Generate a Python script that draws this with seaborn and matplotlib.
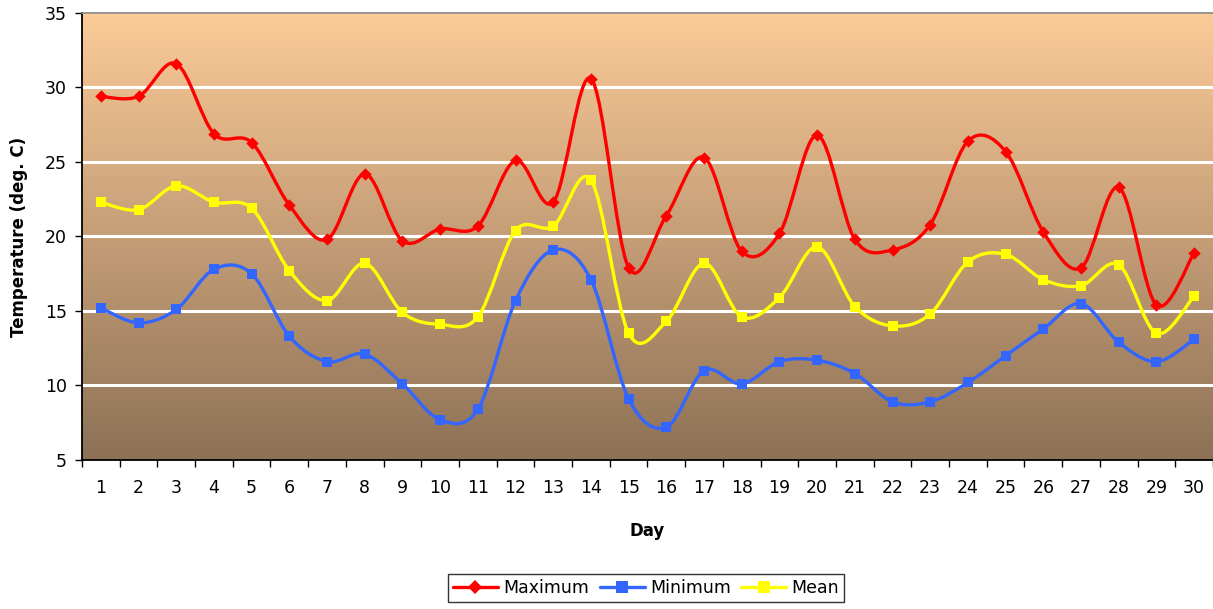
import matplotlib
matplotlib.use('Agg')
import matplotlib.pyplot as plt
import numpy as np
import seaborn as sns
from matplotlib.path import Path
from matplotlib.patches import PathPatch
from matplotlib.lines import Line2D
from matplotlib.colors import LinearSegmentedColormap

sns.set_style('white')
plt.rcParams['font.family'] = ['DejaVu Sans']
plt.rcParams['text.color'] = 'black'
plt.rcParams['axes.labelcolor'] = 'black'
plt.rcParams['xtick.color'] = 'black'
plt.rcParams['ytick.color'] = 'black'

# data
days = list(range(1, 31))
t_max = [29.4, 29.4, 31.6, 26.9, 26.3, 22.1, 19.8, 24.2, 19.7, 20.5,
         20.7, 25.1, 22.3, 30.6, 17.9, 21.4, 25.3, 19.0, 20.2, 26.8,
         19.8, 19.1, 20.8, 26.4, 25.7, 20.3, 17.9, 23.3, 15.4, 18.9]
t_min = [15.2, 14.2, 15.1, 17.8, 17.5, 13.3, 11.6, 12.1, 10.1, 7.7,
         8.4, 15.7, 19.1, 17.1, 9.1, 7.2, 11.0, 10.1, 11.6, 11.7,
         10.8, 8.9, 8.9, 10.2, 12.0, 13.8, 15.5, 12.9, 11.6, 13.1]
t_mean = [22.3, 21.8, 23.4, 22.3, 21.9, 17.7, 15.7, 18.2, 14.9, 14.1,
          14.6, 20.4, 20.7, 23.8, 13.5, 14.3, 18.2, 14.6, 15.9, 19.3,
          15.3, 14.0, 14.8, 18.3, 18.8, 17.1, 16.7, 18.1, 13.5, 16.0]
series_names = ['Maximum', 'Minimum', 'Mean']
series_colors = ['#FF0000', '#3366FF', '#FFFF00']
series_markers = ['D', 's', 's']


def smooth_path(xs, ys):
    # excel-style smoothed line as cubic bezier segments
    pts = np.column_stack([xs, ys]).astype(float)
    n = len(pts)
    verts = [pts[0]]
    codes = [Path.MOVETO]
    for i in range(n - 1):
        p0 = pts[i - 1] if i > 0 else pts[i]
        p1 = pts[i]
        p2 = pts[i + 1]
        p3 = pts[i + 2] if i + 2 < n else pts[i + 1]
        c1 = p1 + (p2 - p0) / 6.0
        c2 = p2 - (p3 - p1) / 6.0
        verts += [c1, c2, p2]
        codes += [Path.CURVE4] * 3
    return Path(verts, codes)


fig = plt.figure(figsize=(12.13, 6.09), dpi=100)
ax = fig.add_axes([0.0676, 0.2447, 0.9324, 0.734])

# gradient background, light at top
grad = np.linspace(0, 1, 256).reshape(-1, 1)
bg_cmap = LinearSegmentedColormap.from_list('bg', ['#FCCB98', '#8D7156'])
ax.imshow(grad, cmap=bg_cmap, aspect='auto', extent=[0.5, 30.5, 5, 35],
          origin='upper', zorder=0, interpolation='bilinear')

for yv in [10, 15, 20, 25, 30]:
    ax.axhline(yv, color='white', lw=2.2, zorder=1)

for vals, col, mk in zip([t_max, t_min, t_mean], series_colors, series_markers):
    ax.add_patch(PathPatch(smooth_path(days, vals), facecolor='none',
                           edgecolor=col, lw=2.4, zorder=3, capstyle='round'))
    sns.scatterplot(x=days, y=vals, marker=mk, color=col,
                    s=40 if mk == 'D' else 60, edgecolor=col, linewidth=0,
                    ax=ax, zorder=4)

ax.set_xlim(0.5, 30.5)
ax.set_ylim(5, 35)
ax.set_yticks([5, 10, 15, 20, 25, 30, 35])
ax.set_xticks(days)
ax.set_xticks(np.arange(0.5, 31, 1), minor=True)
ax.tick_params(axis='x', which='major', length=0, pad=14, labelsize=12.5)
ax.tick_params(axis='x', which='minor', length=5, width=1, direction='out',
               color='black', bottom=True)
ax.tick_params(axis='y', length=5, width=1, direction='out', color='black',
               left=True, pad=6, labelsize=12.5)

for side in ['left', 'bottom']:
    ax.spines[side].set_color('black')
    ax.spines[side].set_linewidth(1.3)
ax.spines['top'].set_color('#888888')
ax.spines['top'].set_linewidth(1.2)
ax.spines['right'].set_visible(False)

ax.set_xlabel('Day', fontsize=12, fontweight='bold', labelpad=18)
ax.set_ylabel('Temperature (deg. C)', fontsize=12, fontweight='bold', labelpad=12)

handles = [Line2D([0], [0], color=c, lw=2.4, marker=m,
                  markersize=7 if m == 'D' else 8, markeredgewidth=0)
           for c, m in zip(series_colors, series_markers)]
leg = fig.legend(handles, series_names, loc='center', ncol=3,
                 bbox_to_anchor=(646 / 1213, 1 - 588 / 609), fontsize=12.5,
                 frameon=True, fancybox=False, edgecolor='black',
                 handlelength=2.6, handletextpad=0.3, columnspacing=0.6,
                 borderpad=0.3)
leg.get_frame().set_linewidth(1.0)

fig.savefig('out.png', dpi=100)
